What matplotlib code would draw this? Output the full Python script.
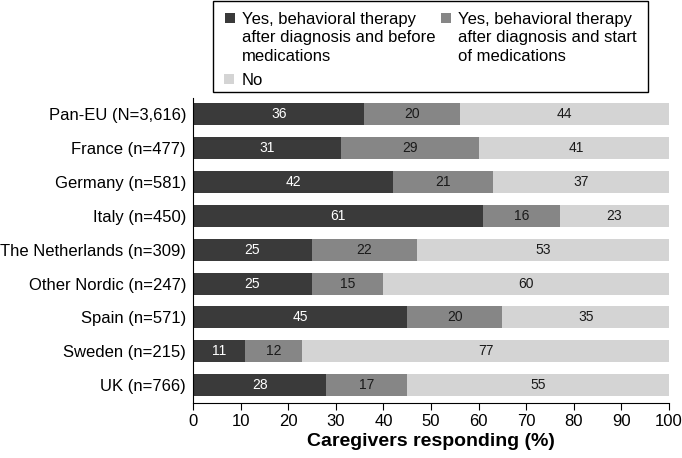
import numpy as np
import matplotlib.pyplot as plt
from matplotlib.patches import Rectangle

plt.rcParams.update({'font.family': ['Liberation Sans', 'DejaVu Sans'], 'font.size': 12})

countries = ['Pan-EU (N=3,616)', 'France (n=477)', 'Germany (n=581)', 'Italy (n=450)',
             'The Netherlands (n=309)', 'Other Nordic (n=247)', 'Spain (n=571)',
             'Sweden (n=215)', 'UK (n=766)']
before_meds = [36, 31, 42, 61, 25, 25, 45, 11, 28]
start_meds = [20, 29, 21, 16, 22, 15, 20, 12, 17]
no_therapy = [44, 41, 37, 23, 53, 60, 35, 77, 55]

labels = ['Yes, behavioral therapy\nafter diagnosis and before\nmedications',
          'Yes, behavioral therapy\nafter diagnosis and start\nof medications',
          'No']
colours = '#3a3a3a', '#868686', '#d4d4d4'
text_colours = 'white', '#1a1a1a', '#1a1a1a'

W, H = 682, 458
fig = plt.figure(figsize=(W / 100, H / 100), dpi=100)
ax = fig.add_axes([0.283, 0.121, 0.698, 0.665])

y = np.arange(len(countries))
left = np.zeros(len(countries))
for vals, c, tc, lab in zip([before_meds, start_meds, no_therapy], colours, text_colours, labels):
    vals = np.array(vals, dtype=float)
    ax.barh(y, vals, left=left, height=0.65, color=c, label=lab)
    for yi, l, v in zip(y, left, vals):
        ax.text(l + v / 2, yi, '%d' % v, ha='center', va='center', color=tc, fontsize=10)
    left += vals

ax.set_xlim(0, 100)
ax.set_ylim(len(countries) - 1 + 0.51, -0.47)
ax.set_xticks(np.arange(0, 101, 10))
ax.set_yticks(y)
ax.set_yticklabels(countries)
ax.tick_params(axis='y', length=0, pad=5)
ax.tick_params(axis='x', direction='out', length=5, pad=3)
ax.spines['top'].set_visible(False)
ax.spines['right'].set_visible(False)
ax.set_xlabel('Caregivers responding (%)', fontsize=14, fontweight='bold', labelpad=3)

# legend drawn by hand so the swatches sit on the first text line
def px(x, yy):
    return x / W, 1 - yy / H

fig.patches.append(Rectangle(px(213, 92), 435 / W, 91 / H, transform=fig.transFigure,
                             facecolor='white', edgecolor='black', lw=1.0))
# (square x, square top, text x, text top, colour, label)
entries = [(225, 13, 242, 12, colours[0], labels[0]),
           (441, 13, 458, 12, colours[1], labels[1]),
           (224, 74, 242, 73, colours[2], labels[2])]
for sx, sy, tx, ty, c, lab in entries:
    fig.patches.append(Rectangle(px(sx, sy + 10), 10 / W, 10 / H, transform=fig.transFigure,
                                 facecolor=c, edgecolor='none'))
    fig.text(*px(tx, ty), lab, ha='left', va='top', fontsize=12, linespacing=1.28)

plt.savefig('out.png', dpi=100)
